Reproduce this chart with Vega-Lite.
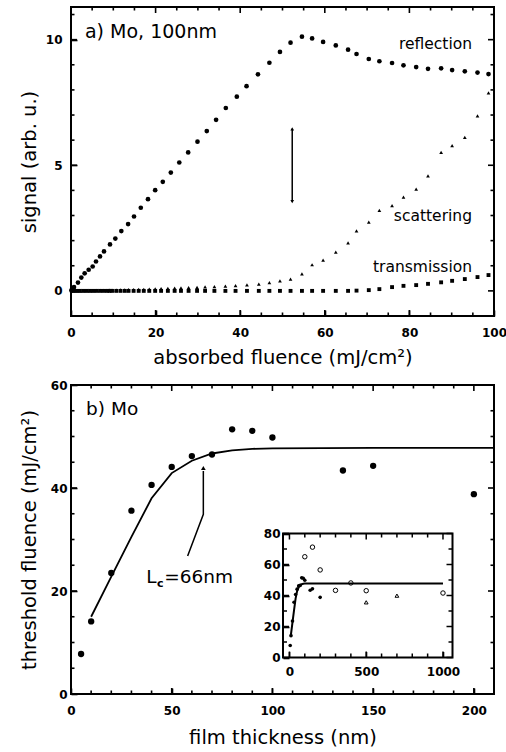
{
  "$schema": "https://vega.github.io/schema/vega-lite/v6.json",
  "padding": {"left": 18, "top": 6, "right": 5, "bottom": 5},
  "spacing": 10,
  "config": {
    "font": "DejaVu Sans",
    "view": {"stroke": "black", "strokeWidth": 2},
    "axis": {
      "domain": false, "grid": false, "tickColor": "#000000", "tickWidth": 1.6,
      "labelFont": "DejaVu Sans", "labelFontWeight": "bold", "labelFontSize": 12, "labelColor": "black",
      "titleFont": "DejaVu Sans", "titleFontSize": 19.5, "titleFontWeight": "normal", "titleColor": "black",
      "labelFlush": false, "labelOverlap": false
    }
  },
  "datasets": {
    "refl": [
      {"fluence":0.1,"signal":0.02},{"fluence":0.25,"signal":0.05},{"fluence":0.4,"signal":0.08},{"fluence":0.55,"signal":0.11},
      {"fluence":0.71,"signal":0.15},{"fluence":1.65,"signal":0.33},{"fluence":2.44,"signal":0.53},{"fluence":3.23,"signal":0.7},
      {"fluence":4.18,"signal":0.84},{"fluence":5.12,"signal":0.97},{"fluence":5.91,"signal":1.17},{"fluence":6.86,"signal":1.37},
      {"fluence":7.8,"signal":1.57},{"fluence":9.22,"signal":1.85},{"fluence":10.48,"signal":2.08},{"fluence":11.9,"signal":2.38},
      {"fluence":13.5,"signal":2.66},{"fluence":14.9,"signal":2.96},{"fluence":16.5,"signal":3.31},{"fluence":18.2,"signal":3.65},
      {"fluence":19.9,"signal":4.01},{"fluence":21.7,"signal":4.34},{"fluence":23.6,"signal":4.71},{"fluence":25.6,"signal":5.11},
      {"fluence":27.7,"signal":5.51},{"fluence":29.9,"signal":5.94},{"fluence":32.1,"signal":6.36},{"fluence":34.3,"signal":6.81},
      {"fluence":36.6,"signal":7.28},{"fluence":39.2,"signal":7.73},{"fluence":41.5,"signal":8.15},{"fluence":44.2,"signal":8.62},
      {"fluence":46.9,"signal":9.08},{"fluence":49.4,"signal":9.51},{"fluence":51.9,"signal":9.88},{"fluence":54.6,"signal":10.12},
      {"fluence":57.0,"signal":10.05},{"fluence":59.6,"signal":9.91},{"fluence":62.6,"signal":9.77},{"fluence":65.5,"signal":9.6},
      {"fluence":67.5,"signal":9.43},{"fluence":70.4,"signal":9.23},{"fluence":72.9,"signal":9.14},{"fluence":75.9,"signal":9.07},
      {"fluence":78.6,"signal":8.98},{"fluence":81.6,"signal":8.91},{"fluence":84.4,"signal":8.84},{"fluence":87.5,"signal":8.86},
      {"fluence":90.1,"signal":8.79},{"fluence":93.1,"signal":8.74},{"fluence":96.1,"signal":8.69},{"fluence":98.7,"signal":8.63}
    ],
    "scat": [
      {"fluence":0.5,"signal":0.0},{"fluence":1.3,"signal":0.0},{"fluence":2.1,"signal":0.0},{"fluence":2.9,"signal":0.01},
      {"fluence":3.7,"signal":0.01},{"fluence":4.5,"signal":0.01},{"fluence":5.3,"signal":0.01},{"fluence":6.1,"signal":0.02},
      {"fluence":6.9,"signal":0.02},{"fluence":7.7,"signal":0.02},{"fluence":8.5,"signal":0.02},{"fluence":9.1,"signal":0.03},
      {"fluence":9.7,"signal":0.03},{"fluence":10.7,"signal":0.03},{"fluence":11.7,"signal":0.04},{"fluence":12.7,"signal":0.04},
      {"fluence":13.6,"signal":0.05},{"fluence":14.8,"signal":0.05},{"fluence":16.0,"signal":0.06},{"fluence":17.2,"signal":0.06},
      {"fluence":18.5,"signal":0.07},{"fluence":19.9,"signal":0.08},{"fluence":21.3,"signal":0.09},{"fluence":22.9,"signal":0.1},
      {"fluence":24.5,"signal":0.11},{"fluence":26.0,"signal":0.12},{"fluence":27.8,"signal":0.13},{"fluence":29.8,"signal":0.14},
      {"fluence":31.7,"signal":0.16},{"fluence":33.9,"signal":0.17},{"fluence":36.5,"signal":0.19},{"fluence":38.9,"signal":0.21},
      {"fluence":41.6,"signal":0.24},{"fluence":44.4,"signal":0.27},{"fluence":46.9,"signal":0.33},{"fluence":49.4,"signal":0.4},
      {"fluence":51.9,"signal":0.47},{"fluence":54.6,"signal":0.68},{"fluence":57.0,"signal":1.04},{"fluence":59.6,"signal":1.22},
      {"fluence":62.6,"signal":1.54},{"fluence":65.5,"signal":1.91},{"fluence":67.5,"signal":2.39},{"fluence":70.4,"signal":2.74},
      {"fluence":72.9,"signal":3.2},{"fluence":75.9,"signal":3.39},{"fluence":78.6,"signal":3.73},{"fluence":81.6,"signal":4.05},
      {"fluence":84.4,"signal":4.58},{"fluence":87.5,"signal":5.51},{"fluence":90.1,"signal":5.78},{"fluence":93.1,"signal":6.11},
      {"fluence":96.1,"signal":6.97},{"fluence":98.7,"signal":7.88}
    ],
    "trans": [
      {"fluence":0.5,"signal":0},{"fluence":1.3,"signal":0},{"fluence":2.1,"signal":0},{"fluence":2.9,"signal":0},
      {"fluence":3.7,"signal":0},{"fluence":4.5,"signal":0},{"fluence":5.3,"signal":0},{"fluence":6.1,"signal":0},
      {"fluence":6.9,"signal":0},{"fluence":7.7,"signal":0},{"fluence":8.5,"signal":0},{"fluence":9.1,"signal":0},
      {"fluence":9.7,"signal":0},{"fluence":10.7,"signal":0},{"fluence":11.7,"signal":0},{"fluence":12.7,"signal":0},
      {"fluence":13.6,"signal":0},{"fluence":14.8,"signal":0},{"fluence":16.0,"signal":0},{"fluence":17.2,"signal":0},
      {"fluence":18.5,"signal":0},{"fluence":19.9,"signal":0},{"fluence":21.3,"signal":0},{"fluence":22.9,"signal":0},
      {"fluence":24.5,"signal":0},{"fluence":26.0,"signal":0},{"fluence":27.8,"signal":0},{"fluence":29.8,"signal":0},
      {"fluence":31.7,"signal":0},{"fluence":33.9,"signal":0},{"fluence":36.5,"signal":0},{"fluence":38.9,"signal":0},
      {"fluence":41.6,"signal":0},{"fluence":44.4,"signal":0},{"fluence":46.9,"signal":0},{"fluence":49.4,"signal":0},
      {"fluence":51.9,"signal":0},{"fluence":54.6,"signal":0},{"fluence":57.0,"signal":0},{"fluence":59.6,"signal":0},
      {"fluence":62.6,"signal":0},{"fluence":65.5,"signal":0},{"fluence":67.5,"signal":0.01},{"fluence":70.4,"signal":0.03},
      {"fluence":72.9,"signal":0.07},{"fluence":75.9,"signal":0.15},{"fluence":78.6,"signal":0.2},{"fluence":81.6,"signal":0.23},
      {"fluence":84.4,"signal":0.28},{"fluence":87.5,"signal":0.34},{"fluence":90.1,"signal":0.4},{"fluence":93.1,"signal":0.47},
      {"fluence":96.1,"signal":0.55},{"fluence":98.7,"signal":0.63}
    ],
    "arrowA": [{"fluence":52.3,"lo":3.55,"hi":6.45}],
    "headsA": [{"fluence":52.3,"signal":6.45,"dir":"up"},{"fluence":52.3,"signal":3.55,"dir":"down"}],
    "textA": [{"label":"a) Mo, 100nm","fluence":3.3,"signal":10.3}],
    "textA2": [
      {"label":"reflection","fluence":94.8,"signal":9.83},
      {"label":"scattering","fluence":94.8,"signal":2.99},
      {"label":"transmission","fluence":94.8,"signal":0.97}
    ],
    "tA_x": [
      {"v":0,"kind":"major"},{"v":5,"kind":"minor"},{"v":10,"kind":"minor"},{"v":15,"kind":"minor"},{"v":20,"kind":"major"},
      {"v":25,"kind":"minor"},{"v":30,"kind":"minor"},{"v":35,"kind":"minor"},{"v":40,"kind":"major"},{"v":45,"kind":"minor"},
      {"v":50,"kind":"minor"},{"v":55,"kind":"minor"},{"v":60,"kind":"major"},{"v":65,"kind":"minor"},{"v":70,"kind":"minor"},
      {"v":75,"kind":"minor"},{"v":80,"kind":"major"},{"v":85,"kind":"minor"},{"v":90,"kind":"minor"},{"v":95,"kind":"minor"},
      {"v":100,"kind":"major"}
    ],
    "tA_y": [
      {"v":-1,"kind":"minor"},{"v":0,"kind":"major"},{"v":1,"kind":"minor"},{"v":2,"kind":"minor"},{"v":3,"kind":"minor"},
      {"v":4,"kind":"minor"},{"v":5,"kind":"major"},{"v":6,"kind":"minor"},{"v":7,"kind":"minor"},{"v":8,"kind":"minor"},
      {"v":9,"kind":"minor"},{"v":10,"kind":"major"},{"v":11,"kind":"minor"}
    ],
    "bmain": [
      {"thickness":5,"threshold":7.76},{"thickness":10,"threshold":14.1},{"thickness":20,"threshold":23.5},
      {"thickness":30,"threshold":35.6},{"thickness":40,"threshold":40.6},{"thickness":50,"threshold":44.1},
      {"thickness":60,"threshold":46.2},{"thickness":70,"threshold":46.5},{"thickness":80,"threshold":51.4},
      {"thickness":90,"threshold":51.1},{"thickness":100,"threshold":49.8},{"thickness":135,"threshold":43.4},
      {"thickness":150,"threshold":44.3},{"thickness":200,"threshold":38.8}
    ],
    "bfit": [
      {"thickness":10,"threshold":15.0},{"thickness":20,"threshold":22.8},{"thickness":30,"threshold":30.5},
      {"thickness":40,"threshold":38.0},{"thickness":50,"threshold":42.9},{"thickness":60,"threshold":45.3},
      {"thickness":70,"threshold":46.7},{"thickness":80,"threshold":47.3},{"thickness":90,"threshold":47.6},
      {"thickness":100,"threshold":47.7},{"thickness":150,"threshold":47.8},{"thickness":1000,"threshold":47.8}
    ],
    "barrow": [
      {"thickness":57.9,"threshold":26.8,"step":1},
      {"thickness":65.7,"threshold":34.9,"step":2},
      {"thickness":65.7,"threshold":43.3,"step":3}
    ],
    "bhead": [{"thickness":65.7,"threshold":43.9}],
    "textB": [
      {"label":"b) Mo","thickness":7.5,"threshold":55.3},
      {"label":"L","thickness":37.3,"threshold":22.8},
      {"label":"=66nm","thickness":46.3,"threshold":22.8}
    ],
    "textB2": [{"label":"c","thickness":42.7,"threshold":21.3}],
    "tB_x": [
      {"v":0,"kind":"major"},{"v":10,"kind":"minor"},{"v":20,"kind":"minor"},{"v":30,"kind":"minor"},{"v":40,"kind":"minor"},
      {"v":50,"kind":"major"},{"v":60,"kind":"minor"},{"v":70,"kind":"minor"},{"v":80,"kind":"minor"},{"v":90,"kind":"minor"},
      {"v":100,"kind":"major"},{"v":110,"kind":"minor"},{"v":120,"kind":"minor"},{"v":130,"kind":"minor"},{"v":140,"kind":"minor"},
      {"v":150,"kind":"major"},{"v":160,"kind":"minor"},{"v":170,"kind":"minor"},{"v":180,"kind":"minor"},{"v":190,"kind":"minor"},
      {"v":200,"kind":"major"},{"v":210,"kind":"minor"}
    ],
    "tB_y": [
      {"v":0,"kind":"major"},{"v":5,"kind":"minor"},{"v":10,"kind":"minor"},{"v":15,"kind":"minor"},{"v":20,"kind":"major"},
      {"v":25,"kind":"minor"},{"v":30,"kind":"minor"},{"v":35,"kind":"minor"},{"v":40,"kind":"major"},{"v":45,"kind":"minor"},
      {"v":50,"kind":"minor"},{"v":55,"kind":"minor"},{"v":60,"kind":"major"}
    ],
    "tI_xmaj": [{"v":0},{"v":500},{"v":1000}],
    "tI_xmin": [{"v":100},{"v":200},{"v":300},{"v":400},{"v":600},{"v":700},{"v":800},{"v":900}],
    "tI_ymaj": [{"v":0},{"v":20},{"v":40},{"v":60},{"v":80}],
    "tI_ymin": [{"v":10},{"v":30},{"v":50},{"v":70}],
    "iopen": [
      {"thickness":100,"threshold":65},{"thickness":150,"threshold":71.2},{"thickness":200,"threshold":56.5},
      {"thickness":300,"threshold":43.3},{"thickness":400,"threshold":48.1},{"thickness":500,"threshold":43.1},
      {"thickness":1000,"threshold":41.6}
    ],
    "itri": [{"thickness":500,"threshold":35.6},{"thickness":700,"threshold":39.9}]
  },
  "vconcat": [
    {
      "width": 423, "height": 309,
      "resolve": {"scale": {"x": "independent", "y": "independent", "size": "independent"}, "axis": {"x": "independent", "y": "independent"}},
      "layer": [
        {
          "data": {"name": "refl"},
          "mark": {"type": "point", "shape": "circle", "filled": true, "color": "black", "opacity": 1, "size": 22},
          "encoding": {
            "x": {"field": "fluence", "type": "quantitative", "scale": {"domain": [0, 100], "nice": false, "zero": false},
                  "axis": {"orient": "bottom", "offset": -6, "values": [0,20,40,60,80,100], "tickSize": 6, "labelPadding": 11, "title": "absorbed fluence (mJ/cm²)", "titlePadding": 10}},
            "y": {"field": "signal", "type": "quantitative", "scale": {"domain": [-1, 11.3], "nice": false, "zero": false},
                  "axis": {"orient": "left", "offset": -6, "values": [0,5,10], "tickSize": 6, "labelPadding": 9, "title": "signal (arb. u.)", "titlePadding": 6}}
          }
        },
        {
          "data": {"name": "scat"},
          "mark": {"type": "point", "shape": "triangle-up", "filled": true, "color": "black", "opacity": 1, "size": 14},
          "encoding": {
            "x": {"field": "fluence", "type": "quantitative", "scale": {"domain": [0, 100], "nice": false, "zero": false}, "axis": null},
            "y": {"field": "signal", "type": "quantitative", "scale": {"domain": [-1, 11.3], "nice": false, "zero": false}, "axis": null}
          }
        },
        {
          "data": {"name": "trans"},
          "mark": {"type": "point", "shape": "square", "filled": true, "color": "black", "opacity": 1, "size": 15},
          "encoding": {
            "x": {"field": "fluence", "type": "quantitative", "scale": {"domain": [0, 100], "nice": false, "zero": false}, "axis": null},
            "y": {"field": "signal", "type": "quantitative", "scale": {"domain": [-1, 11.3], "nice": false, "zero": false}, "axis": null}
          }
        },
        {
          "data": {"name": "arrowA"},
          "mark": {"type": "rule", "color": "black", "strokeWidth": 1.5},
          "encoding": {
            "x": {"field": "fluence", "type": "quantitative", "scale": {"domain": [0, 100], "nice": false, "zero": false}, "axis": null},
            "y": {"field": "lo", "type": "quantitative", "scale": {"domain": [-1, 11.3], "nice": false, "zero": false}, "axis": null},
            "y2": {"field": "hi"}
          }
        },
        {
          "data": {"name": "headsA"},
          "mark": {"type": "point", "filled": true, "color": "black", "opacity": 1, "size": 14},
          "encoding": {
            "x": {"field": "fluence", "type": "quantitative", "scale": {"domain": [0, 100], "nice": false, "zero": false}, "axis": null},
            "y": {"field": "signal", "type": "quantitative", "scale": {"domain": [-1, 11.3], "nice": false, "zero": false}, "axis": null},
            "shape": {"field": "dir", "type": "nominal", "scale": {"domain": ["up", "down"], "range": ["triangle-up", "triangle-down"]}, "legend": null}
          }
        },
        {
          "data": {"name": "textA"},
          "mark": {"type": "text", "align": "left", "baseline": "middle", "fontSize": 19, "color": "black"},
          "encoding": {
            "x": {"field": "fluence", "type": "quantitative", "scale": {"domain": [0, 100], "nice": false, "zero": false}, "axis": null},
            "y": {"field": "signal", "type": "quantitative", "scale": {"domain": [-1, 11.3], "nice": false, "zero": false}, "axis": null},
            "text": {"field": "label"}
          }
        },
        {
          "data": {"name": "textA2"},
          "mark": {"type": "text", "align": "right", "baseline": "middle", "fontSize": 15.5, "color": "black"},
          "encoding": {
            "x": {"field": "fluence", "type": "quantitative", "scale": {"domain": [0, 100], "nice": false, "zero": false}, "axis": null},
            "y": {"field": "signal", "type": "quantitative", "scale": {"domain": [-1, 11.3], "nice": false, "zero": false}, "axis": null},
            "text": {"field": "label"}
          }
        },
        {
          "data": {"name": "tA_x"},
          "mark": {"type": "tick", "orient": "vertical", "thickness": 1.6, "color": "black", "opacity": 1, "clip": true},
          "encoding": {
            "x": {"field": "v", "type": "quantitative", "scale": {"domain": [0, 100], "nice": false, "zero": false}, "axis": null},
            "y": {"datum": -1, "type": "quantitative", "scale": {"domain": [-1, 11.3], "nice": false, "zero": false}, "axis": null},
            "size": {"field": "kind", "type": "nominal", "scale": {"domain": ["major", "minor"], "range": [12, 7]}, "legend": null}
          }
        },
        {
          "data": {"name": "tA_x"},
          "mark": {"type": "tick", "orient": "vertical", "thickness": 1.6, "color": "black", "opacity": 1, "clip": true},
          "encoding": {
            "x": {"field": "v", "type": "quantitative", "scale": {"domain": [0, 100], "nice": false, "zero": false}, "axis": null},
            "y": {"datum": 11.3, "type": "quantitative", "scale": {"domain": [-1, 11.3], "nice": false, "zero": false}, "axis": null},
            "size": {"field": "kind", "type": "nominal", "scale": {"domain": ["major", "minor"], "range": [12, 7]}, "legend": null}
          }
        },
        {
          "data": {"name": "tA_y"},
          "mark": {"type": "tick", "orient": "horizontal", "thickness": 1.6, "color": "black", "opacity": 1, "clip": true},
          "encoding": {
            "y": {"field": "v", "type": "quantitative", "scale": {"domain": [-1, 11.3], "nice": false, "zero": false}, "axis": null},
            "x": {"datum": 0, "type": "quantitative", "scale": {"domain": [0, 100], "nice": false, "zero": false}, "axis": null},
            "size": {"field": "kind", "type": "nominal", "scale": {"domain": ["major", "minor"], "range": [12, 7]}, "legend": null}
          }
        },
        {
          "data": {"name": "tA_y"},
          "mark": {"type": "tick", "orient": "horizontal", "thickness": 1.6, "color": "black", "opacity": 1, "clip": true},
          "encoding": {
            "y": {"field": "v", "type": "quantitative", "scale": {"domain": [-1, 11.3], "nice": false, "zero": false}, "axis": null},
            "x": {"datum": 100, "type": "quantitative", "scale": {"domain": [0, 100], "nice": false, "zero": false}, "axis": null},
            "size": {"field": "kind", "type": "nominal", "scale": {"domain": ["major", "minor"], "range": [12, 7]}, "legend": null}
          }
        }
      ]
    },
    {
      "width": 423, "height": 309,
      "resolve": {"scale": {"x": "independent", "y": "independent", "size": "independent"}, "axis": {"x": "independent", "y": "independent"}},
      "layer": [
        {
          "data": {"name": "bmain"},
          "mark": {"type": "point", "shape": "circle", "filled": true, "color": "black", "opacity": 1, "size": 40},
          "encoding": {
            "x": {"field": "thickness", "type": "quantitative", "scale": {"domain": [0, 210], "nice": false, "zero": false},
                  "axis": {"orient": "bottom", "offset": -6, "values": [0,50,100,150,200], "tickSize": 6, "labelPadding": 11, "title": "film thickness (nm)", "titlePadding": 12}},
            "y": {"field": "threshold", "type": "quantitative", "scale": {"domain": [0, 60], "nice": false, "zero": false},
                  "axis": {"orient": "left", "offset": -6, "values": [0,20,40,60], "tickSize": 6, "labelPadding": 4, "title": "threshold fluence (mJ/cm²)", "titlePadding": 11}}
          }
        },
        {
          "data": {"name": "bfit"},
          "mark": {"type": "line", "color": "black", "strokeWidth": 1.8, "clip": true},
          "encoding": {
            "x": {"field": "thickness", "type": "quantitative", "scale": {"domain": [0, 210], "nice": false, "zero": false}, "axis": null},
            "y": {"field": "threshold", "type": "quantitative", "scale": {"domain": [0, 60], "nice": false, "zero": false}, "axis": null}
          }
        },
        {
          "data": {"name": "barrow"},
          "mark": {"type": "line", "color": "black", "strokeWidth": 1.5},
          "encoding": {
            "x": {"field": "thickness", "type": "quantitative", "scale": {"domain": [0, 210], "nice": false, "zero": false}, "axis": null},
            "y": {"field": "threshold", "type": "quantitative", "scale": {"domain": [0, 60], "nice": false, "zero": false}, "axis": null},
            "order": {"field": "step", "type": "quantitative"}
          }
        },
        {
          "data": {"name": "bhead"},
          "mark": {"type": "point", "shape": "triangle-up", "filled": true, "color": "black", "opacity": 1, "size": 22},
          "encoding": {
            "x": {"field": "thickness", "type": "quantitative", "scale": {"domain": [0, 210], "nice": false, "zero": false}, "axis": null},
            "y": {"field": "threshold", "type": "quantitative", "scale": {"domain": [0, 60], "nice": false, "zero": false}, "axis": null}
          }
        },
        {
          "data": {"name": "textB"},
          "mark": {"type": "text", "align": "left", "baseline": "middle", "fontSize": 18.5, "color": "black"},
          "encoding": {
            "x": {"field": "thickness", "type": "quantitative", "scale": {"domain": [0, 210], "nice": false, "zero": false}, "axis": null},
            "y": {"field": "threshold", "type": "quantitative", "scale": {"domain": [0, 60], "nice": false, "zero": false}, "axis": null},
            "text": {"field": "label"}
          }
        },
        {
          "data": {"name": "textB2"},
          "mark": {"type": "text", "align": "left", "baseline": "middle", "fontSize": 11, "fontWeight": "bold", "color": "black"},
          "encoding": {
            "x": {"field": "thickness", "type": "quantitative", "scale": {"domain": [0, 210], "nice": false, "zero": false}, "axis": null},
            "y": {"field": "threshold", "type": "quantitative", "scale": {"domain": [0, 60], "nice": false, "zero": false}, "axis": null},
            "text": {"field": "label"}
          }
        },
        {
          "data": {"name": "tB_x"},
          "mark": {"type": "tick", "orient": "vertical", "thickness": 1.6, "color": "black", "opacity": 1, "clip": true},
          "encoding": {
            "x": {"field": "v", "type": "quantitative", "scale": {"domain": [0, 210], "nice": false, "zero": false}, "axis": null},
            "y": {"datum": 0, "type": "quantitative", "scale": {"domain": [0, 60], "nice": false, "zero": false}, "axis": null},
            "size": {"field": "kind", "type": "nominal", "scale": {"domain": ["major", "minor"], "range": [12, 7]}, "legend": null}
          }
        },
        {
          "data": {"name": "tB_x"},
          "mark": {"type": "tick", "orient": "vertical", "thickness": 1.6, "color": "black", "opacity": 1, "clip": true},
          "encoding": {
            "x": {"field": "v", "type": "quantitative", "scale": {"domain": [0, 210], "nice": false, "zero": false}, "axis": null},
            "y": {"datum": 60, "type": "quantitative", "scale": {"domain": [0, 60], "nice": false, "zero": false}, "axis": null},
            "size": {"field": "kind", "type": "nominal", "scale": {"domain": ["major", "minor"], "range": [12, 7]}, "legend": null}
          }
        },
        {
          "data": {"name": "tB_y"},
          "mark": {"type": "tick", "orient": "horizontal", "thickness": 1.6, "color": "black", "opacity": 1, "clip": true},
          "encoding": {
            "y": {"field": "v", "type": "quantitative", "scale": {"domain": [0, 60], "nice": false, "zero": false}, "axis": null},
            "x": {"datum": 0, "type": "quantitative", "scale": {"domain": [0, 210], "nice": false, "zero": false}, "axis": null},
            "size": {"field": "kind", "type": "nominal", "scale": {"domain": ["major", "minor"], "range": [12, 7]}, "legend": null}
          }
        },
        {
          "data": {"name": "tB_y"},
          "mark": {"type": "tick", "orient": "horizontal", "thickness": 1.6, "color": "black", "opacity": 1, "clip": true},
          "encoding": {
            "y": {"field": "v", "type": "quantitative", "scale": {"domain": [0, 60], "nice": false, "zero": false}, "axis": null},
            "x": {"datum": 210, "type": "quantitative", "scale": {"domain": [0, 210], "nice": false, "zero": false}, "axis": null},
            "size": {"field": "kind", "type": "nominal", "scale": {"domain": ["major", "minor"], "range": [12, 7]}, "legend": null}
          }
        },
        {
          "data": {"values": [{}]},
          "mark": {"type": "rect", "fill": null, "fillOpacity": 0, "stroke": "black", "strokeWidth": 2},
          "encoding": {
            "x": {"datum": -42, "type": "quantitative", "scale": {"domain": [-42, 1062], "range": [212, 381.5], "nice": false, "zero": false}, "axis": null},
            "x2": {"datum": 1062},
            "y": {"datum": 0, "type": "quantitative", "scale": {"domain": [0, 80], "range": [272.5, 148.5], "nice": false, "zero": false}, "axis": null},
            "y2": {"datum": 80}
          }
        },
        {
          "data": {"name": "bmain"},
          "mark": {"type": "point", "shape": "circle", "filled": true, "color": "black", "opacity": 1, "size": 13},
          "encoding": {
            "x": {"field": "thickness", "type": "quantitative", "scale": {"domain": [-42, 1062], "range": [212, 381.5], "nice": false, "zero": false},
                  "axis": {"orient": "bottom", "offset": -42.5, "values": [0,500,1000], "format": "d", "tickSize": 6, "labelPadding": 9, "title": null}},
            "y": {"field": "threshold", "type": "quantitative", "scale": {"domain": [0, 80], "range": [272.5, 148.5], "nice": false, "zero": false},
                  "axis": {"orient": "left", "offset": -218, "values": [0,20,40,60,80], "tickSize": 6, "labelPadding": 3, "title": null}}
          }
        },
        {
          "data": {"name": "iopen"},
          "mark": {"type": "point", "shape": "circle", "filled": false, "color": "black", "opacity": 1, "size": 20, "strokeWidth": 1},
          "encoding": {
            "x": {"field": "thickness", "type": "quantitative", "scale": {"domain": [-42, 1062], "range": [212, 381.5], "nice": false, "zero": false}, "axis": null},
            "y": {"field": "threshold", "type": "quantitative", "scale": {"domain": [0, 80], "range": [272.5, 148.5], "nice": false, "zero": false}, "axis": null}
          }
        },
        {
          "data": {"name": "itri"},
          "mark": {"type": "point", "shape": "triangle-up", "filled": false, "color": "black", "opacity": 1, "size": 14, "strokeWidth": 1},
          "encoding": {
            "x": {"field": "thickness", "type": "quantitative", "scale": {"domain": [-42, 1062], "range": [212, 381.5], "nice": false, "zero": false}, "axis": null},
            "y": {"field": "threshold", "type": "quantitative", "scale": {"domain": [0, 80], "range": [272.5, 148.5], "nice": false, "zero": false}, "axis": null}
          }
        },
        {
          "data": {"name": "bfit"},
          "mark": {"type": "line", "color": "black", "strokeWidth": 2},
          "encoding": {
            "x": {"field": "thickness", "type": "quantitative", "scale": {"domain": [-42, 1062], "range": [212, 381.5], "nice": false, "zero": false}, "axis": null},
            "y": {"field": "threshold", "type": "quantitative", "scale": {"domain": [0, 80], "range": [272.5, 148.5], "nice": false, "zero": false}, "axis": null}
          }
        },
        {
          "data": {"name": "tI_xmaj"},
          "mark": {"type": "tick", "orient": "vertical", "thickness": 1.5, "size": 6, "yOffset": -3, "color": "black", "opacity": 1},
          "encoding": {
            "x": {"field": "v", "type": "quantitative", "scale": {"domain": [-42, 1062], "range": [212, 381.5], "nice": false, "zero": false}, "axis": null},
            "y": {"datum": 0, "type": "quantitative", "scale": {"domain": [0, 80], "range": [272.5, 148.5], "nice": false, "zero": false}, "axis": null}
          }
        },
        {
          "data": {"name": "tI_xmin"},
          "mark": {"type": "tick", "orient": "vertical", "thickness": 1.5, "size": 4, "yOffset": -2, "color": "black", "opacity": 1},
          "encoding": {
            "x": {"field": "v", "type": "quantitative", "scale": {"domain": [-42, 1062], "range": [212, 381.5], "nice": false, "zero": false}, "axis": null},
            "y": {"datum": 0, "type": "quantitative", "scale": {"domain": [0, 80], "range": [272.5, 148.5], "nice": false, "zero": false}, "axis": null}
          }
        },
        {
          "data": {"name": "tI_xmaj"},
          "mark": {"type": "tick", "orient": "vertical", "thickness": 1.5, "size": 6, "yOffset": 3, "color": "black", "opacity": 1},
          "encoding": {
            "x": {"field": "v", "type": "quantitative", "scale": {"domain": [-42, 1062], "range": [212, 381.5], "nice": false, "zero": false}, "axis": null},
            "y": {"datum": 80, "type": "quantitative", "scale": {"domain": [0, 80], "range": [272.5, 148.5], "nice": false, "zero": false}, "axis": null}
          }
        },
        {
          "data": {"name": "tI_xmin"},
          "mark": {"type": "tick", "orient": "vertical", "thickness": 1.5, "size": 4, "yOffset": 2, "color": "black", "opacity": 1},
          "encoding": {
            "x": {"field": "v", "type": "quantitative", "scale": {"domain": [-42, 1062], "range": [212, 381.5], "nice": false, "zero": false}, "axis": null},
            "y": {"datum": 80, "type": "quantitative", "scale": {"domain": [0, 80], "range": [272.5, 148.5], "nice": false, "zero": false}, "axis": null}
          }
        },
        {
          "data": {"name": "tI_ymaj"},
          "mark": {"type": "tick", "orient": "horizontal", "thickness": 1.5, "size": 6, "xOffset": 3, "color": "black", "opacity": 1},
          "encoding": {
            "y": {"field": "v", "type": "quantitative", "scale": {"domain": [0, 80], "range": [272.5, 148.5], "nice": false, "zero": false}, "axis": null},
            "x": {"datum": -42, "type": "quantitative", "scale": {"domain": [-42, 1062], "range": [212, 381.5], "nice": false, "zero": false}, "axis": null}
          }
        },
        {
          "data": {"name": "tI_ymin"},
          "mark": {"type": "tick", "orient": "horizontal", "thickness": 1.5, "size": 4, "xOffset": 2, "color": "black", "opacity": 1},
          "encoding": {
            "y": {"field": "v", "type": "quantitative", "scale": {"domain": [0, 80], "range": [272.5, 148.5], "nice": false, "zero": false}, "axis": null},
            "x": {"datum": -42, "type": "quantitative", "scale": {"domain": [-42, 1062], "range": [212, 381.5], "nice": false, "zero": false}, "axis": null}
          }
        },
        {
          "data": {"name": "tI_ymaj"},
          "mark": {"type": "tick", "orient": "horizontal", "thickness": 1.5, "size": 6, "xOffset": -3, "color": "black", "opacity": 1},
          "encoding": {
            "y": {"field": "v", "type": "quantitative", "scale": {"domain": [0, 80], "range": [272.5, 148.5], "nice": false, "zero": false}, "axis": null},
            "x": {"datum": 1062, "type": "quantitative", "scale": {"domain": [-42, 1062], "range": [212, 381.5], "nice": false, "zero": false}, "axis": null}
          }
        },
        {
          "data": {"name": "tI_ymin"},
          "mark": {"type": "tick", "orient": "horizontal", "thickness": 1.5, "size": 4, "xOffset": -2, "color": "black", "opacity": 1},
          "encoding": {
            "y": {"field": "v", "type": "quantitative", "scale": {"domain": [0, 80], "range": [272.5, 148.5], "nice": false, "zero": false}, "axis": null},
            "x": {"datum": 1062, "type": "quantitative", "scale": {"domain": [-42, 1062], "range": [212, 381.5], "nice": false, "zero": false}, "axis": null}
          }
        }
      ]
    }
  ]
}
